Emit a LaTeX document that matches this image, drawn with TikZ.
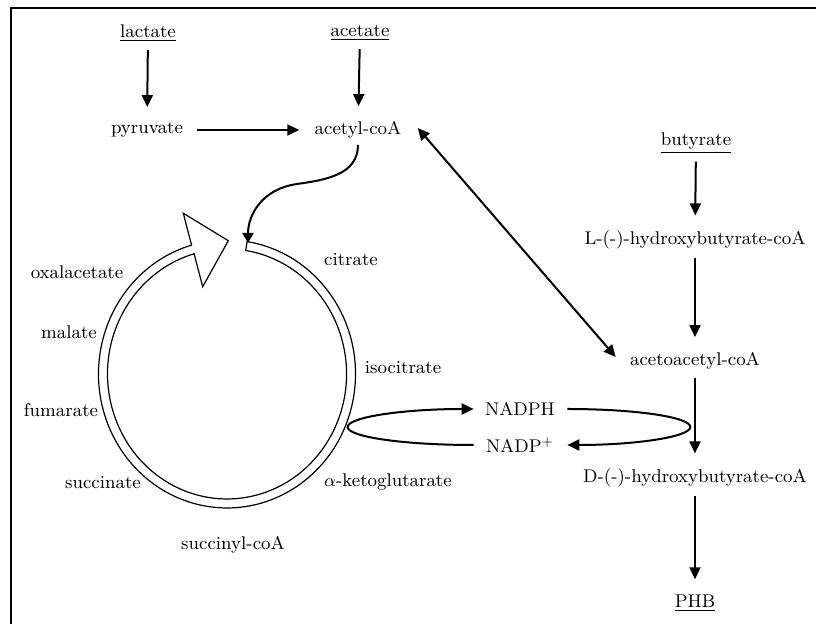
\documentclass[tikz,border=0pt]{standalone}
\usetikzlibrary{arrows.meta}
\begin{document}
\begin{tikzpicture}[x=0.5pt, y=-0.5pt,
	every node/.style={font=\fontsize{9.2}{11}\selectfont, inner sep=3pt},
	flow/.style={line width=1pt, -{Triangle[length=6pt,width=5.5pt]}, shorten >=4.5pt, shorten <=1pt},
	loop/.style={line width=1pt, -{Triangle[length=6pt,width=5.5pt]}},
	ring/.style={line width=0.6pt, fill=white}]
		\useasboundingbox (0,0) rectangle (816,624);
		\draw [line width=1pt] (10.7,8.5) rectangle (830,640);
		\node (lactate) at (148,33) {\underline{lactate}};
		\node (acetate) at (360,33) {\underline{acetate}};
		\node (pyruvate) at (147,130) {pyruvate};
		\node (acetyl) at (358,130) {acetyl-coA};
		\node (butyrate) at (696,143) {\underline{butyrate}};
		\node (lhb) at (695,240) {L-(-)-hydroxybutyrate-coA};
		\node (acac) at (695,361) {acetoacetyl-coA};
		\node (dhb) at (695,478) {D-(-)-hydroxybutyrate-coA};
		\node (phb) at (695,603) {\underline{PHB}};
		\node (oxal) at (77,272) {oxalacetate};
		\node (citrate) at (351,260) {citrate};
		\node (malate) at (69,332) {malate};
		\node (isocit) at (403,368) {isocitrate};
		\node (fumarate) at (61,410) {fumarate};
		\node (succinate) at (103,483) {succinate};
		\node (akg) at (388,482) {$\alpha$-ketoglutarate};
		\node (succcoa) at (233,545) {succinyl-coA};
		\node [inner sep=6pt] (nadph) at (520,409) {NADPH};
		\node [inner sep=6pt] (nadpp) at (520,445) {NADP$^{+}$};
		\coordinate (gapend) at (248,243);
		\draw [ring] (247.1,241.6) arc [start angle=81, end angle=-254, x radius=64.25pt, y radius=67pt]
			-- (183.3,213.3) -- (228.3,240.7) -- (202.7,286.7) -- (194.1,253.8)
			arc [start angle=-254, end angle=81, x radius=59.75pt, y radius=62.5pt] -- cycle;
		\draw [flow] (lactate) -- (pyruvate);
		\draw [flow] (acetate) -- (acetyl);
		\draw [flow, shorten <=4pt] (pyruvate) -- (acetyl);
		\draw [flow] (butyrate) -- (lhb);
		\draw [flow] (lhb) -- (acac);
		\draw [flow] (acac) -- (dhb);
		\draw [flow] (dhb) -- (phb);
		\draw [loop, {Triangle[length=6pt,width=5.5pt]}-{Triangle[length=6pt,width=5.5pt]}] ([xshift=5pt,yshift=1pt]acetyl.east) -- ([xshift=-4pt,yshift=2pt]acac.west);
		\draw [loop, -{Triangle[length=5pt,width=5.5pt]}] (acetyl.south) .. controls (358,175) and (325,180) .. (297,184) .. controls (262,189) and (248,215) .. (gapend);
		\draw [loop] (nadpp.west) arc [start angle=270, end angle=90, x radius=63pt, y radius=9pt];
		\draw [loop] (nadph.east) arc [start angle=90, end angle=-90, x radius=61.5pt, y radius=9pt];
\end{tikzpicture}
\end{document}
